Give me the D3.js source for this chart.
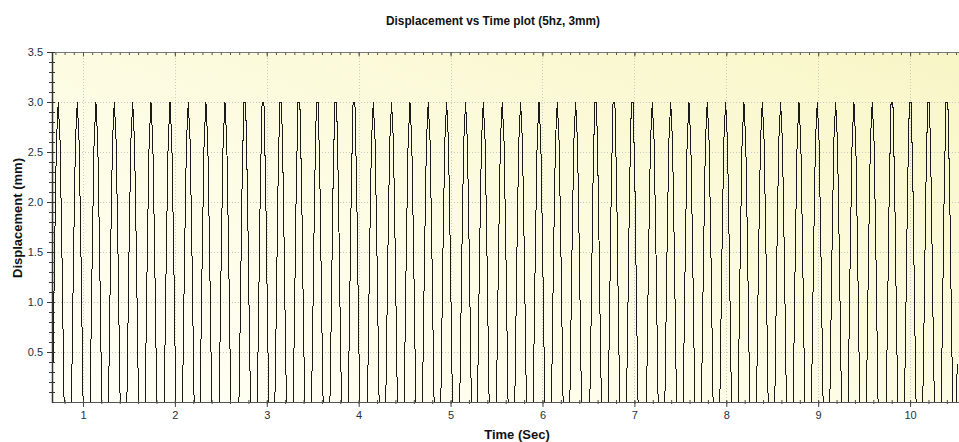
<!DOCTYPE html>
<html>
<head>
<meta charset="utf-8">
<script src="https://cdn.jsdelivr.net/npm/d3@7"></script>
<style>
  body { margin: 0; background: #fff; }
  svg { display: block; font-family: "Liberation Sans", Arial, sans-serif; }
</style>
</head>
<body>
<svg id="chart" width="959" height="442"></svg>
<script>
// peak time of every cycle (sec)
const peakTimes = [
    0.731, 0.938, 1.141, 1.341, 1.541, 1.740, 1.947, 2.146, 2.338, 2.545,
    2.760, 2.959, 3.151, 3.350, 3.550, 3.750, 3.949, 4.159, 4.358, 4.558,
    4.757, 4.957, 5.163, 5.356, 5.562, 5.762, 5.962, 6.161, 6.361, 6.578,
    6.778, 6.977, 7.195, 7.395, 7.594, 7.793, 7.993, 8.192, 8.392, 8.591,
    8.791, 8.990, 9.190, 9.389, 9.588, 9.803, 10.002, 10.201, 10.401
];
// 1 = peak drawn with a flat top (two samples at 3.0)
const flatTop = [
    0, 0, 0, 0, 0, 0, 0, 0, 0, 0,
    1, 1, 1, 1, 1, 1, 1, 0, 0, 0,
    0, 0, 0, 0, 0, 0, 0, 0, 0, 1,
    1, 1, 0, 0, 0, 0, 0, 0, 0, 0,
    0, 0, 0, 0, 0, 1, 1, 1, 1
];
// sample levels around a peak (offset in sec from the peak, displacement mm)
const spikeOffsets = [-0.08, -0.06, -0.04, -0.02, 0, 0.02, 0.04, 0.06, 0.08];
const spikeLevels  = [-0.9, 0.2, 1.5, 2.6, 3.0, 2.6, 1.5, 0.2, -0.9];
const flatOffsets  = [-0.09, -0.07, -0.05, -0.03, -0.01, 0.01, 0.03, 0.05, 0.07, 0.09];
const flatLevels   = [-1.2, -0.4, 0.75, 2.1, 3.0, 3.0, 2.1, 0.75, -0.4, -1.2];
// last recorded samples
const tailTimes  = [10.49, 10.512];
const tailLevels = [-1.0, 0.38];

const xTicks = [1, 2, 3, 4, 5, 6, 7, 8, 9, 10];
const yTicks = [0.5, 1.0, 1.5, 2.0, 2.5, 3.0, 3.5];

const plotL = 52, plotT = 52, plotB = 402, plotR = 961;

const svg = d3.select("#chart");

const x = d3.scaleLinear().domain([0.663, 10.554]).range([plotL, plotR]);
const y = d3.scaleLinear().domain([0, 3.5]).range([plotB, plotT]);

// background gradient
const defs = svg.append("defs");
const grad = defs.append("linearGradient")
    .attr("id", "bg")
    .attr("x1", 0).attr("y1", 1)
    .attr("x2", 1).attr("y2", 0);
grad.append("stop").attr("offset", 0).attr("stop-color", "#fffff6");
grad.append("stop").attr("offset", 0.45).attr("stop-color", "#fdfce4");
grad.append("stop").attr("offset", 1).attr("stop-color", "#f8f6c6");

defs.append("clipPath").attr("id", "plotClip")
    .append("rect")
    .attr("x", plotL).attr("y", plotT)
    .attr("width", plotR - plotL).attr("height", plotB - plotT);

svg.append("rect")
    .attr("x", plotL).attr("y", plotT)
    .attr("width", plotR - plotL).attr("height", plotB - plotT)
    .attr("fill", "url(#bg)");

// dotted grid
const grid = svg.append("g")
    .attr("stroke", "#c9c9c0")
    .attr("stroke-width", 1)
    .attr("stroke-dasharray", "1,2");

grid.selectAll("line.v")
    .data(xTicks)
    .join("line")
    .attr("class", "v")
    .attr("x1", d => Math.round(x(d)) + 0.5).attr("x2", d => Math.round(x(d)) + 0.5)
    .attr("y1", plotT).attr("y2", plotB);

grid.selectAll("line.h")
    .data(yTicks.filter(d => d < 3.5))
    .join("line")
    .attr("class", "h")
    .attr("x1", plotL).attr("x2", plotR)
    .attr("y1", d => Math.round(y(d)) + 0.5).attr("y2", d => Math.round(y(d)) + 0.5);

// build samples
const samples = [];
peakTimes.forEach((tp, i) => {
    const offs = flatTop[i] ? flatOffsets : spikeOffsets;
    const lv = flatTop[i] ? flatLevels : spikeLevels;
    offs.forEach((o, j) => samples.push({ t: tp + o, v: lv[j] }));
});
tailTimes.forEach((t, i) => samples.push({ t: t, v: tailLevels[i] }));
samples.sort((a, b) => a.t - b.t);

const line = d3.line()
    .x(d => x(d.t))
    .y(d => y(d.v));

svg.append("path")
    .datum(samples)
    .attr("clip-path", "url(#plotClip)")
    .attr("fill", "none")
    .attr("stroke", "#1a1a1a")
    .attr("stroke-width", 1)
    .attr("shape-rendering", "crispEdges")
    .attr("d", line);

// top border + inward ticks
svg.append("line")
    .attr("x1", plotL).attr("x2", plotR)
    .attr("y1", plotT + 0.5).attr("y2", plotT + 0.5)
    .attr("stroke", "#7a7a7a");

const topMinor = svg.append("g")
    .attr("transform", `translate(0,${plotT + 0.5})`)
    .call(d3.axisTop(x).tickValues(d3.range(0.7, 10.55, 0.1)).tickSize(-2.5).tickFormat(""));
topMinor.select(".domain").remove();
topMinor.selectAll("line").attr("stroke", "#555");

const topMajor = svg.append("g")
    .attr("transform", `translate(0,${plotT + 0.5})`)
    .call(d3.axisTop(x).tickValues(xTicks).tickSize(-4).tickFormat(""));
topMajor.select(".domain").remove();
topMajor.selectAll("line").attr("stroke", "#555");

// bottom axis
const botMinor = svg.append("g")
    .attr("transform", `translate(0,${plotB - 2})`)
    .call(d3.axisBottom(x).tickValues(d3.range(0.8, 10.55, 0.2)).tickSize(4).tickFormat(""));
botMinor.select(".domain").remove();
botMinor.selectAll("line").attr("stroke", "#444");

const botMajor = svg.append("g")
    .attr("transform", `translate(0,${plotB - 1})`)
    .call(d3.axisBottom(x).tickValues(xTicks).tickSize(6).tickPadding(4).tickFormat(d3.format("d")));
botMajor.select(".domain").remove();
botMajor.selectAll("line").attr("stroke", "#444");
botMajor.selectAll("text")
    .attr("font-size", 11)
    .attr("font-family", "'Liberation Sans', Arial, sans-serif")
    .attr("fill", "#24303c");

svg.append("line")
    .attr("x1", plotL).attr("x2", plotR)
    .attr("y1", plotB + 0.5).attr("y2", plotB + 0.5)
    .attr("stroke", "#555");

// left axis
const leftMinor = svg.append("g")
    .attr("transform", `translate(${plotL + 3},0)`)
    .call(d3.axisLeft(y).tickValues(d3.range(0.1, 3.55, 0.1)).tickSize(6).tickFormat(""));
leftMinor.select(".domain").remove();
leftMinor.selectAll("line").attr("stroke", "#333");

const leftMajor = svg.append("g")
    .attr("transform", `translate(${plotL + 1},0)`)
    .call(d3.axisLeft(y).tickValues(yTicks).tickSize(6).tickPadding(4).tickFormat(d3.format(".1f")));
leftMajor.select(".domain").remove();
leftMajor.selectAll("line").attr("stroke", "#333");
leftMajor.selectAll("text")
    .attr("font-size", 11)
    .attr("font-family", "'Liberation Sans', Arial, sans-serif")
    .attr("fill", "#24303c");

svg.append("line")
    .attr("x1", plotL + 0.5).attr("x2", plotL + 0.5)
    .attr("y1", plotT).attr("y2", plotB + 1)
    .attr("stroke", "#333")
    .attr("stroke-width", 1.5);

// titles
svg.append("text")
    .attr("x", 493).attr("y", 24.5)
    .attr("text-anchor", "middle")
    .attr("font-size", 13)
    .attr("font-weight", "bold")
    .attr("fill", "#111")
    .attr("textLength", 214)
    .attr("lengthAdjust", "spacingAndGlyphs")
    .text("Displacement vs Time plot (5hz, 3mm)");

svg.append("text")
    .attr("x", 517).attr("y", 438.5)
    .attr("text-anchor", "middle")
    .attr("font-size", 13)
    .attr("font-weight", "bold")
    .attr("fill", "#111")
    .text("Time (Sec)");

svg.append("text")
    .attr("transform", "translate(22,218) rotate(-90)")
    .attr("text-anchor", "middle")
    .attr("font-size", 13)
    .attr("font-weight", "bold")
    .attr("fill", "#111")
    .text("Displacement (mm)");
</script>
</body>
</html>
